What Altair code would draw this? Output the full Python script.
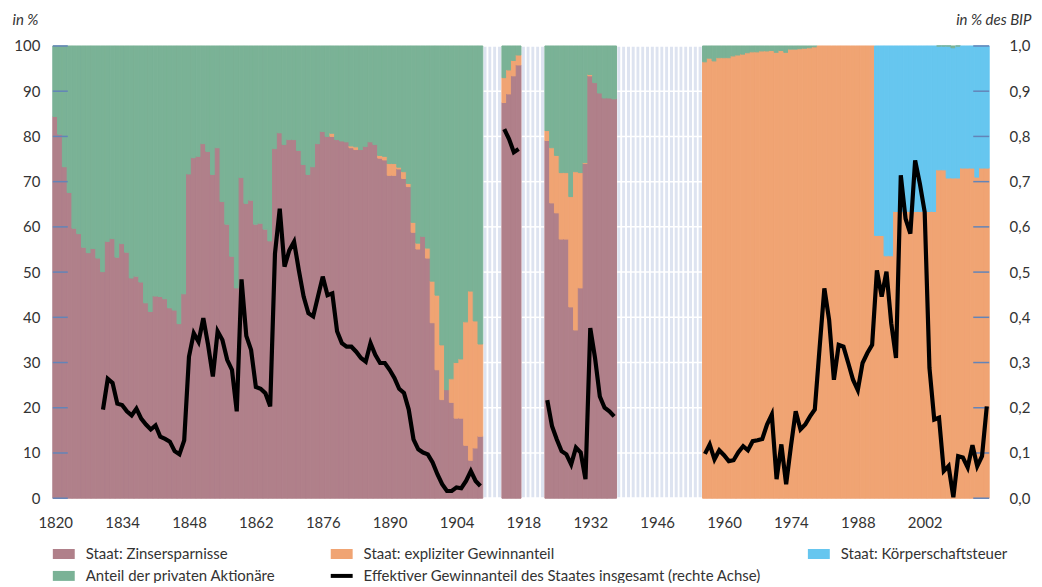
import altair as alt
import pandas as pd

# ---------------- data ----------------
years_a = list(range(1820, 1910))
zins_a = [84.4, 80.5, 73.3, 67.6, 59.7, 58.5, 55.5, 54.3, 55.2, 53.1,
          50.1, 56.8, 57.4, 53.3, 56.3, 54.4, 48.7, 49.1, 47.8, 43.2,
          41.3, 44.7, 44.6, 44.1, 42.1, 41.6, 38.6, 45.2, 71.7, 75.3,
          75.6, 78.4, 76.7, 71.6, 77.5, 65.6, 60.6, 53.5, 46.5, 70.9,
          65.2, 65.9, 60.6, 60.8, 59.5, 56.9, 77.3, 80.8, 78.2, 79.3,
          79.3, 76.9, 73.8, 71.6, 73.3, 78.4, 81.1, 80.0, 80.0, 79.3,
          79.0, 78.8, 77.5, 77.1, 77.1, 77.8, 78.8, 78.2, 75.2, 74.8,
          71.4, 71.4, 72.8, 70.7, 68.9, 58.8, 55.1, 57.9, 53.1, 38.8,
          28.4, 21.8, 24.0, 21.2, 17.7, 17.7, 11.7, 8.4, 11.1, 13.7]
expl_a = [0.0] * 58 + [0.7, 0.0, 0.0, 0.0, 0.4, 0.6, 0.0, 0.0, 0.0, 0.0, 0.6, 0.8,
                       2.6, 2.6, 0.4, 1.5, 0.7, 2.2, 1.3, 0.0, 2.2, 9.2,
                       16.5, 12.1, 0.0, 5.2, 12.3, 13.1, 27.3, 37.4, 28.1, 20.4]

years_b = [1914, 1915, 1916, 1917]
zins_b = [87.5, 89.4, 93.4, 95.8]
expl_b = [5.5, 5.3, 3.4, 2.2]

years_c = list(range(1923, 1938))
zins_c = [79.1, 65.3, 63.1, 57.3, 57.3, 42.3, 37.2, 46.5, 74.0, 93.4, 91.9, 89.6, 88.5, 88.5, 88.3]
expl_c = [2.2, 12.2, 12.7, 14.7, 14.7, 24.4, 35.0, 25.5, 0.2, 0.3, 0.0, 0.0, 0.0, 0.0, 0.0]

years_d = list(range(1956, 2016))
expl_d = [96.5, 97.3, 96.7, 97.4, 97.4, 97.4, 97.8, 98.0, 98.2, 98.5,
          98.7, 98.7, 98.9, 98.9, 99.0, 98.6, 99.0, 98.6, 99.3, 99.3,
          99.4, 99.5, 99.6, 99.8] + [100.0] * 12 + [
          58.1, 58.1, 53.6, 53.6, 63.4, 63.4, 63.4, 63.4, 63.4, 63.4,
          63.4, 63.4, 63.4, 72.6, 72.6, 70.8, 70.8, 70.8, 73.0, 73.0,
          73.0, 71.0, 73.0, 73.0]
koerp_d = [0.0] * 36 + [41.9, 41.9, 46.4, 46.4, 36.6, 36.6, 36.6, 36.6, 36.6, 36.6,
                        36.6, 36.6, 36.6, 27.4, 27.4, 29.2, 28.8, 29.2, 27.0, 27.0,
                        27.0, 29.0, 27.0, 27.0]

gap_blocks = [(1910, 1913), (1918, 1922), (1938, 1955)]

line_years_a = list(range(1830, 1910))
line_a = [0.196, 0.264, 0.255, 0.209, 0.206, 0.192, 0.183, 0.198, 0.176, 0.163,
          0.152, 0.161, 0.136, 0.131, 0.125, 0.104, 0.097, 0.128, 0.313, 0.365,
          0.346, 0.398, 0.339, 0.269, 0.369, 0.350, 0.306, 0.284, 0.192, 0.484,
          0.359, 0.328, 0.246, 0.242, 0.232, 0.203, 0.541, 0.640, 0.512, 0.548,
          0.567, 0.504, 0.446, 0.409, 0.402, 0.446, 0.490, 0.449, 0.453, 0.369,
          0.343, 0.335, 0.335, 0.324, 0.310, 0.302, 0.343, 0.317, 0.299, 0.299,
          0.284, 0.266, 0.242, 0.233, 0.196, 0.130, 0.108, 0.101, 0.097, 0.079,
          0.053, 0.031, 0.016, 0.016, 0.024, 0.022, 0.038, 0.060, 0.038, 0.027]
line_years_b = [1914, 1915, 1916, 1917]
line_b = [0.816, 0.794, 0.765, 0.772]
line_years_c = list(range(1923, 1938))
line_c = [0.217, 0.159, 0.130, 0.104, 0.097, 0.075, 0.112, 0.101, 0.042, 0.376,
          0.310, 0.225, 0.200, 0.192, 0.181]
line_years_d = list(range(1956, 2016))
line_d = [0.098, 0.119, 0.086, 0.106, 0.095, 0.082, 0.084, 0.102, 0.115, 0.106,
          0.126, 0.128, 0.131, 0.163, 0.185, 0.042, 0.119, 0.031, 0.115, 0.192,
          0.152, 0.163, 0.181, 0.196, 0.332, 0.464, 0.394, 0.262, 0.339, 0.335,
          0.299, 0.262, 0.239, 0.299, 0.321, 0.339, 0.504, 0.446, 0.501, 0.387,
          0.310, 0.714, 0.618, 0.585, 0.747, 0.695, 0.633, 0.288, 0.174, 0.178,
          0.060, 0.071, 0.002, 0.093, 0.090, 0.068, 0.117, 0.071, 0.093, 0.203]

series_names = ["Staat: Zinsersparnisse", "Staat: expliziter Gewinnanteil",
                "Staat: Körperschaftsteuer", "Anteil der privaten Aktionäre"]
series_colors = ["#b0808a", "#f0a473", "#66c6ef", "#7ab296"]
line_name = "Effektiver Gewinnanteil des Staates insgesamt (rechte Achse)"

x_ticks = list(range(1820, 2003, 14))
left_ticks = list(range(0, 101, 10))
right_ticks = [i / 10 for i in range(0, 11)]

# ---------------- tables ----------------
rows = []
def add_block(years, zins, expl, koerp):
    for y, z, e, k in zip(years, zins, expl, koerp):
        vals = [z, e, k, max(0.0, 100.0 - z - e - k)]
        base = 0.0
        for name, v in zip(series_names, vals):
            if v > 0:
                rows.append({"x0": y - 0.5, "x1": y + 0.5, "y0": base, "y1": base + v, "series": name})
            base += v

add_block(years_a, zins_a, expl_a, [0.0] * len(years_a))
add_block(years_b, zins_b, expl_b, [0.0] * len(years_b))
add_block(years_c, zins_c, expl_c, [0.0] * len(years_c))
add_block(years_d, [0.0] * len(years_d), expl_d, koerp_d)
bars_df = pd.DataFrame(rows)

gap_rows = []
grid_rows = []
for s, e in gap_blocks:
    for y in range(s, e + 1):
        gap_rows.append({"x0": y - 0.5, "x1": y + 0.5, "y0": 0, "y1": 100})
    for v in range(10, 100, 10):
        grid_rows.append({"x0": s - 0.5, "x1": e + 0.5, "y0": v})
gap_df = pd.DataFrame(gap_rows)
grid_df = pd.DataFrame(grid_rows)

line_rows = []
for seg, (ys, vs) in enumerate([(line_years_a, line_a), (line_years_b, line_b),
                                (line_years_c, line_c), (line_years_d, line_d)]):
    for y, v in zip(ys, vs):
        line_rows.append({"x0": y, "val": v, "seg": seg})
line_df = pd.DataFrame(line_rows)

tick_df = pd.DataFrame({"y0": left_ticks})

W, H = 940, 454
FONT = "Lato"
TXT = "#333333"
xscale = alt.Scale(domain=[1819.5, 2015.5], nice=False, zero=False)
yscale = alt.Scale(domain=[0, 100], nice=False)
cscale = alt.Scale(domain=series_names, range=series_colors)

x_axis = alt.Axis(values=x_ticks, format="d", title=None, ticks=False, domain=False,
                  grid=False, labelPadding=17, labelFontSize=15, labelFont=FONT,
                  labelColor=TXT)
y_axis = alt.Axis(values=left_ticks, title="in %", titleAngle=0, titleAlign="left",
                  titleBaseline="middle", titleX=-41, titleY=-27,
                  titleFontStyle="italic", titleFontWeight="normal", titleFontSize=15,
                  titleFont=FONT, titleColor=TXT, ticks=False, grid=False,
                  domain=True, domainColor="#d3dbea", domainWidth=1.5,
                  labelPadding=13, labelFontSize=15, labelFont=FONT, labelColor=TXT)

X = alt.X("x0:Q", scale=xscale, axis=x_axis)
Y = alt.Y("y0:Q", scale=yscale, axis=y_axis)

gaps = alt.Chart(gap_df).mark_rect(fill="#dde3f0", stroke="white", strokeWidth=1.7).encode(
    x=X, x2="x1:Q", y=Y, y2="y1:Q")

gap_grid = alt.Chart(grid_df).mark_rule(color="white", strokeWidth=1.5).encode(
    x=X, x2="x1:Q", y=Y)

bars = alt.Chart(bars_df).mark_rect(strokeWidth=1.0).encode(
    x=X, x2="x1:Q", y=Y, y2="y1:Q",
    color=alt.Color("series:N", scale=cscale, legend=None),
    stroke=alt.Stroke("series:N", scale=cscale, legend=None))

ticks_l = alt.Chart(tick_df).mark_rule(color="#6384b8", strokeWidth=1.5).encode(
    y=Y, x=alt.value(0), x2=alt.value(15))
ticks_r = alt.Chart(tick_df).mark_rule(color="#6384b8", strokeWidth=1.5).encode(
    y=Y, x=alt.value(W - 16), x2=alt.value(W))

# ---------------- manual legend ----------------
legend_items = [
    (series_names[0], "rect", series_colors[0], 0, 0),
    (series_names[1], "rect", series_colors[1], 1, 0),
    (series_names[2], "rect", series_colors[2], 2, 0),
    (series_names[3], "rect", series_colors[3], 0, 1),
    (line_name, "line", "black", 1, 1),
]
col_x = [0, 279, 758]
row_y = [510, 532]
legend_layers = []
for label, kind, col, c, r in legend_items:
    d = pd.DataFrame({"label": [label]})
    x0 = col_x[c]
    yc = row_y[r]
    if kind == "rect":
        sw = alt.Chart(d).mark_rect(color=col).encode(
            x=alt.value(x0), x2=alt.value(x0 + 22), y=alt.value(yc - 5), y2=alt.value(yc + 5))
    else:
        sw = alt.Chart(d).mark_rule(color=col, strokeWidth=4).encode(
            x=alt.value(x0), x2=alt.value(x0 + 22), y=alt.value(yc))
    tx = alt.Chart(d).mark_text(align="left", baseline="middle", fontSize=15, font=FONT,
                                color=TXT).encode(
        text="label:N", x=alt.value(x0 + 33), y=alt.value(yc))
    legend_layers += [sw, tx]

left = alt.layer(gaps, gap_grid, bars, ticks_l, ticks_r, *legend_layers)

line = alt.Chart(line_df).mark_line(color="black", strokeWidth=4.2).encode(
    x=X,
    y=alt.Y("val:Q", scale=alt.Scale(domain=[0, 1], nice=False),
            axis=alt.Axis(orient="right", values=right_ticks,
                          labelExpr="replace(format(datum.value, '.1f'), '.', ',')",
                          title="in % des BIP", titleAngle=0, titleAlign="right",
                          titleBaseline="middle", titleX=42, titleY=-27,
                          titleFontStyle="italic", titleFontWeight="normal", titleFontSize=15,
                          titleFont=FONT, titleColor=TXT, ticks=False, grid=False, domain=False,
                          labelPadding=20, labelFontSize=15, labelFont=FONT, labelColor=TXT)),
    detail="seg:N")

chart = alt.layer(left, line).resolve_scale(y="independent").properties(
    width=W, height=H,
    autosize=alt.AutoSizeParams(type="none"),
    padding={"left": 45, "top": 37, "right": 45, "bottom": 84},
).configure_view(stroke=None)

chart.save("out.html", embed_options={"renderer": "svg", "actions": False})
